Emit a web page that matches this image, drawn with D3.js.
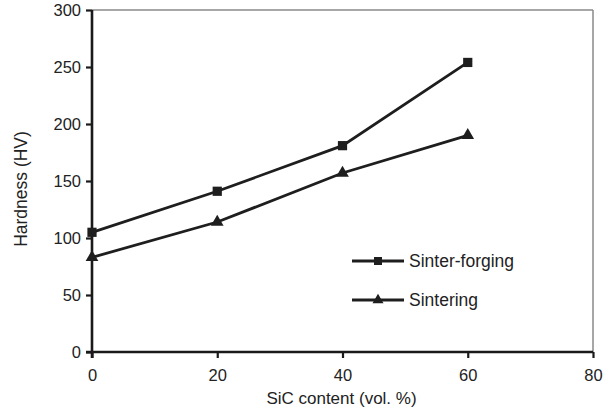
<!DOCTYPE html>
<html>
  <head>
    <script src="https://d3js.org/d3.v7.min.js"></script>
    <style>
      body { margin: 0; background: #fff; }
      text { font-family: "Liberation Sans", Arial, sans-serif; fill: #222; }
    </style>
  </head>
  <body>
    <script>
      // data
      var sicContent = [0, 20, 40, 60];
      var sinterForging = [105, 141, 181, 254];
      var sintering = [83, 114, 157, 190];
      var xTicks = [0, 20, 40, 60, 80];
      var yTicks = [0, 50, 100, 150, 200, 250, 300];

      var W = 611, H = 409;
      var margin = {top: 10, right: 18, bottom: 57, left: 92},
          width = W - margin.left - margin.right,
          height = H - margin.top - margin.bottom;

      var svg = d3.select("body").append("svg")
          .attr("width", W)
          .attr("height", H);
      var g = svg.append("g")
          .attr("transform", "translate(" + margin.left + "," + margin.top + ")");

      var x = d3.scaleLinear().domain([0, 80]).range([0, width]);
      var y = d3.scaleLinear().domain([0, 300]).range([height, 0]);

      // thin grey frame top and right
      g.append("line").attr("x1", 0).attr("x2", width).attr("y1", 0).attr("y2", 0)
          .attr("stroke", "#8a8a8a").attr("stroke-width", 1.5);
      g.append("line").attr("x1", width).attr("x2", width).attr("y1", 0).attr("y2", height)
          .attr("stroke", "#8a8a8a").attr("stroke-width", 1.5);

      // axes
      var yAxis = g.append("g")
          .call(d3.axisLeft(y).tickValues(yTicks).tickSize(6).tickPadding(5));
      var xAxis = g.append("g")
          .attr("transform", "translate(0," + height + ")")
          .call(d3.axisBottom(x).tickValues(xTicks).tickSize(6).tickPadding(11));
      [xAxis, yAxis].forEach(function(a) {
        a.select(".domain").attr("stroke", "#1a1a1a").attr("stroke-width", 2.6);
        a.selectAll(".tick line").attr("stroke", "#1a1a1a").attr("stroke-width", 2.2);
        a.selectAll("text").style("font-size", "16.5px").attr("fill", "#222")
          .style("font-family", "'Liberation Sans', Arial, sans-serif");
      });
      yAxis.select(".domain").attr("d", "M0," + (height + 6) + "V0");
      xAxis.select(".domain").attr("d", "M-6,0H" + width);

      // axis titles
      svg.append("text")
          .attr("x", margin.left + x(40) - 1)
          .attr("y", 404)
          .attr("text-anchor", "middle")
          .style("font-size", "17px")
          .text("SiC content (vol. %)");
      svg.append("text")
          .attr("transform", "translate(27," + (margin.top + y(150) + 8) + ") rotate(-90)")
          .attr("text-anchor", "middle")
          .style("font-size", "17.5px")
          .text("Hardness (HV)");

      var line = d3.line()
          .x(function(d) { return x(d[0]); })
          .y(function(d) { return y(d[1]); });

      var series = [
        {name: "Sinter-forging", values: sinterForging, shape: d3.symbolSquare, size: 85},
        {name: "Sintering", values: sintering, shape: d3.symbolTriangle, size: 70}
      ];

      series.forEach(function(s, i) {
        var pts = sicContent.map(function(c, j) { return [c, s.values[j]]; });
        g.append("path")
            .datum(pts)
            .attr("fill", "none")
            .attr("stroke", "#1e1e1e")
            .attr("stroke-width", 2.8)
            .attr("d", line);
        g.selectAll(".m" + i)
            .data(pts)
          .enter().append("path")
            .attr("transform", function(d) { return "translate(" + x(d[0]) + "," + y(d[1]) + ")"; })
            .attr("fill", "#1e1e1e")
            .attr("d", d3.symbol().type(s.shape).size(s.size));

        // legend
        var ly = 261 + i * 39;
        var lg = svg.append("g").attr("transform", "translate(352," + ly + ")");
        lg.append("line").attr("x1", 0).attr("x2", 52).attr("y1", 0).attr("y2", 0)
            .attr("stroke", "#1e1e1e").attr("stroke-width", 2.8);
        lg.append("path").attr("transform", "translate(26,0)")
            .attr("fill", "#1e1e1e")
            .attr("d", d3.symbol().type(s.shape).size(s.size * 0.75));
        lg.append("text").attr("x", 57).attr("y", 6)
            .style("font-size", "17.5px")
            .text(s.name);
      });
    </script>
  </body>
</html>
